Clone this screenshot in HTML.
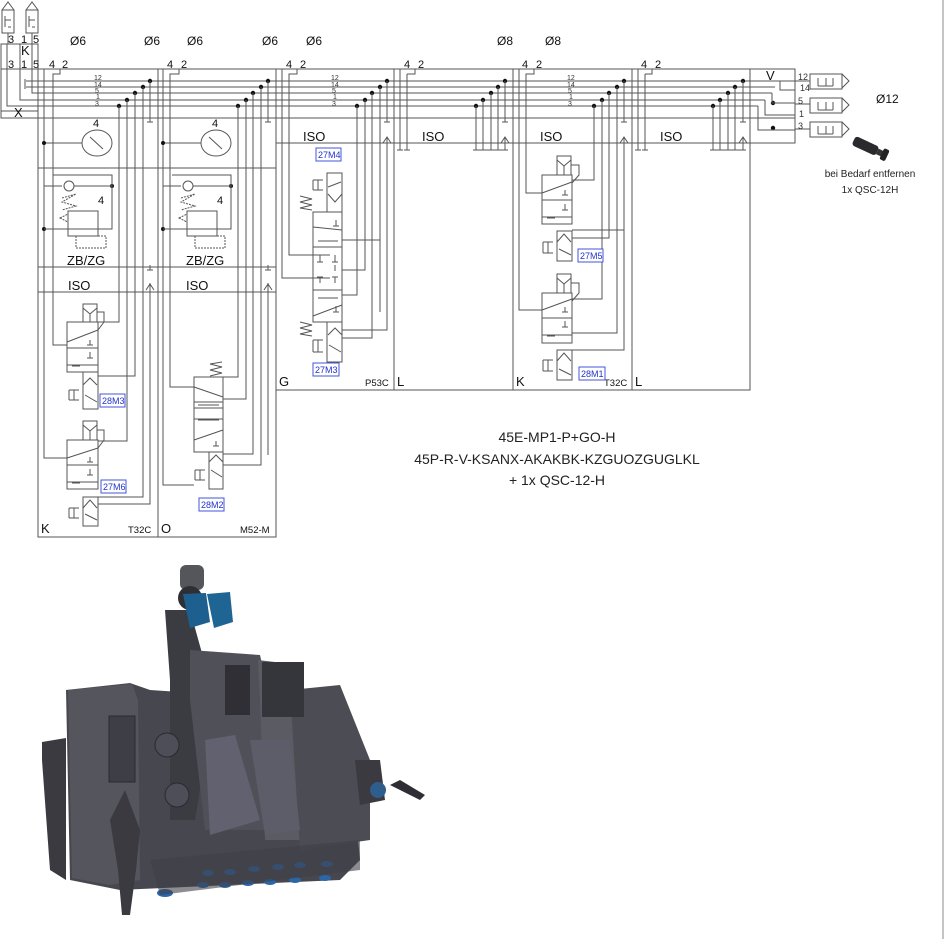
<!DOCTYPE html>
<html><head><meta charset="utf-8"><style>
html,body{margin:0;padding:0;background:#fff;}
svg{display:block;font-family:"Liberation Sans",sans-serif;}
.l{stroke:#555;stroke-width:1;fill:none}
.t{fill:#111}
.s{font-size:7px;fill:#333}
.lab{font-size:9px;fill:#2233cc}
.lb{stroke:#4455dd;fill:#fff;stroke-width:1}
</style></head><body>
<svg width="945" height="939" viewBox="0 0 945 939" xmlns="http://www.w3.org/2000/svg">
<g class="l">
<rect x="2" y="10" width="12" height="23"/><path d="M2,10 L8,2 L14,10 M5,16 L5,27 M5,20 H11 M8,27 H11"/>
<rect x="26" y="10" width="12" height="23"/><path d="M26,10 L32,2 L38,10 M29,16 L29,27 M29,20 H35 M32,27 H35"/>
<path d="M8,33 V44 M32,33 V44"/>
<rect x="1" y="44" width="37" height="74"/>
<path d="M1,69 H795 M1,44 H38"/>
<path d="M7,44 V106 H758 M20,44 V100 H765 M32,44 V93 H772 M26,81 H780 M26,87 H775 M25,79 V89"/>
<path d="M1,111 H38"/>
<path d="M38,118 H795"/>
</g>
<g class="t" style="font-size:11px"><text x="8" y="43">3</text><text x="21" y="43">1</text><text x="33" y="43">5</text>
<text x="8" y="68">3</text><text x="21" y="68">1</text><text x="33" y="68">5</text></g>
<g class="t" style="font-size:13px"><text x="21" y="55">K</text><text x="14" y="117">X</text></g>
<g class="t" style="font-size:12px"><text x="70" y="45">Ø6</text><text x="144" y="45">Ø6</text><text x="187" y="45">Ø6</text><text x="262" y="45">Ø6</text><text x="306" y="45">Ø6</text><text x="497" y="45">Ø8</text><text x="545" y="45">Ø8</text><text x="876" y="103">Ø12</text></g>
<g class="l">
<path d="M38,69 V537 H276 V69 M158,69 V537"/>
<path d="M276,390 H750 V69 M394,69 V390 M513,69 V390 M632,69 V390"/>
<path d="M38,168 H276 M38,267 H276 M38,292 H276"/>
<path d="M276,143 H750"/>
<path d="M750,69 H795 V143 H750"/>
</g>
<g class="s"><text x="94" y="80">12</text><text x="94" y="87">14</text><text x="95" y="93">5</text><text x="96" y="99">1</text><text x="95" y="106">3</text>
<text x="331" y="80">12</text><text x="331" y="87">14</text><text x="332" y="93">5</text><text x="333" y="99">1</text><text x="332" y="106">3</text>
<text x="567" y="80">12</text><text x="567" y="87">14</text><text x="568" y="93">5</text><text x="569" y="99">1</text><text x="568" y="106">3</text></g>
<g class="t" style="font-size:11px"><text x="49" y="68">4</text><text x="62" y="68">2</text><text x="167" y="68">4</text><text x="181" y="68">2</text><text x="286" y="68">4</text><text x="300" y="68">2</text><text x="404" y="68">4</text><text x="418" y="68">2</text><text x="522" y="68">4</text><text x="536" y="68">2</text><text x="641" y="68">4</text><text x="655" y="68">2</text></g>
<g class="l">
<path d="M44,69 V458 H67 M60,69 V74 H53 V345 H67"/>
<path d="M163,69 V485 H194 M179,69 V74 H170 V387 H194"/>
<path d="M282,69 V278 H330 M297,69 V74 H289 V255 H330"/>
<path d="M400,69 V150 M407,74 V150 M415,69 V74 H407 M397,150 H403 M404,150 H410"/>
<path d="M519,69 V310 H542 M534,69 V74 H526 V193 H542"/>
<path d="M638,69 V150 M645,74 V150 M652,69 V74 H645 M635,150 H641 M642,150 H648"/>
</g>
<g fill="#111">
<circle cx="119" cy="106" r="2.2"/><circle cx="127" cy="100" r="2.2"/><circle cx="135" cy="93" r="2.2"/><circle cx="143" cy="87" r="2.2"/><circle cx="150" cy="81" r="2.2"/>
<circle cx="238" cy="106" r="2.2"/><circle cx="246" cy="100" r="2.2"/><circle cx="253" cy="93" r="2.2"/><circle cx="261" cy="87" r="2.2"/><circle cx="268" cy="81" r="2.2"/>
<circle cx="357" cy="106" r="2.2"/><circle cx="365" cy="100" r="2.2"/><circle cx="372" cy="93" r="2.2"/><circle cx="380" cy="87" r="2.2"/><circle cx="387" cy="81" r="2.2"/>
<circle cx="476" cy="106" r="2.2"/><circle cx="483" cy="100" r="2.2"/><circle cx="491" cy="93" r="2.2"/><circle cx="498" cy="87" r="2.2"/><circle cx="505" cy="81" r="2.2"/>
<circle cx="594" cy="106" r="2.2"/><circle cx="602" cy="100" r="2.2"/><circle cx="609" cy="93" r="2.2"/><circle cx="617" cy="87" r="2.2"/><circle cx="624" cy="81" r="2.2"/>
<circle cx="713" cy="106" r="2.2"/><circle cx="720" cy="100" r="2.2"/><circle cx="728" cy="93" r="2.2"/><circle cx="735" cy="87" r="2.2"/><circle cx="743" cy="81" r="2.2"/>
<circle cx="773" cy="103" r="2.2"/><circle cx="773" cy="128" r="2.2"/>
</g>
<g class="l">
<path d="M119,106 V322 H98 M127,100 V441 H98 M135,93 V376 H98 M143,87 V497 H98 M150,81 V122 M147,122 H153 M150,283 V504 H98"/>
<path d="M147,270 H153 M150,270 V265 M146,290 L150,284 L154,290"/>
<path d="M238,106 V377 H223 M246,100 V399 H223 M253,93 V454 H223 M261,87 V465 H223 M268,81 V122 M265,122 H271 M268,283 V455"/>
<path d="M265,270 H271 M268,270 V265 M264,290 L268,284 L272,290"/>
<path d="M357,106 V295 H342 M365,100 V270 H342 M372,93 V338 H342 M380,87 V240 H342 M380,187 V312 M387,81 V122 M384,122 H390 M387,138 V330 H342"/>
<path d="M383,143 L387,137 L391,143"/>
<path d="M476,106 V150 M483,100 V150 M491,93 V150 M498,87 V150 M505,81 V122 M502,122 H508 M505,138 V150 M501,143 L505,137 L509,143 M473,150 H508"/>
<path d="M594,106 V180 H572 M602,100 V299 H572 M609,93 V238 H572 M617,87 V333 H572 M624,81 V122 M621,122 H627 M624,138 V230 H572 M624,230 V350 H572"/>
<path d="M620,143 L624,137 L628,143"/>
<path d="M713,106 V150 M720,100 V150 M728,93 V150 M735,87 V150 M743,81 V122 M740,122 H746 M743,138 V150 M739,143 L743,137 L747,143 M710,150 H746"/>
<path d="M758,106 V130 H795 M765,100 V115 H795 M772,93 V103 H795 M780,81 V90 H795"/>
<path d="M795,81 H810 M795,104 H810 M795,129 H810 M780,81 H795"/>
</g>
<text class="t" style="font-size:13px" x="766" y="80">V</text>
<g class="s" style="font-size:9px"><text x="798" y="80">12</text><text x="800" y="91">14</text><text x="798" y="104">5</text><text x="799" y="117">1</text><text x="798" y="129">3</text></g>
<g class="l"><rect x="810" y="74" width="32" height="15"/><path d="M842,74 L849,81 L842,88 M818,78 V86 M826,78 V86 M833,78 V86 M818,86 H833"/>
<rect x="810" y="98" width="32" height="15"/><path d="M842,98 L849,105 L842,112 M818,102 V110 M826,102 V110 M833,102 V110 M818,110 H833"/>
<rect x="810" y="122" width="32" height="15"/><path d="M842,122 L849,129 L842,136 M818,126 V134 M826,126 V134 M833,126 V134 M818,134 H833"/></g>
<g transform="translate(870,148) rotate(25)"><rect x="-18" y="-5" width="26" height="10" rx="3" fill="#2a2a2e"/><rect x="8" y="-3" width="6" height="6" fill="#333"/><rect x="13" y="-6" width="6" height="12" rx="2" fill="#222"/></g>
<text x="870" y="177" font-size="10" text-anchor="middle" fill="#222">bei Bedarf entfernen</text>
<text x="870" y="193" font-size="10" text-anchor="middle" fill="#222">1x QSC-12H</text>
<g class="l"><ellipse cx="97" cy="143" rx="15" ry="13"/><path d="M90,137 L103,149"/><ellipse cx="216" cy="143" rx="15" ry="13"/><path d="M209,137 L222,149"/>
<path d="M44,143 H82 M163,143 H201"/></g>
<g fill="#111"><circle cx="44" cy="143" r="2"/><circle cx="163" cy="143" r="2"/><circle cx="112" cy="186" r="2"/><circle cx="231" cy="186" r="2"/><circle cx="44" cy="229" r="2"/><circle cx="163" cy="229" r="2"/></g>
<g class="t" style="font-size:11px"><text x="93" y="127">4</text><text x="212" y="127">4</text><text x="98" y="204">4</text><text x="217" y="204">4</text></g>
<g class="l">
<path d="M53,175 H112 V229 H68 M44,186 H62 M74,186 H112 M44,229 H68"/><circle cx="69" cy="186" r="5"/>
<rect x="68" y="211" width="30" height="25"/><path d="M62,198 L76,194 L62,202 L76,206 L62,210 M60,218 L68,214 L68,222 Z M68,229 H98 M98,236 H106 V248 H76 V236" stroke-dasharray="2,1"/>
<path d="M172,175 H231 V229 H187 M163,186 H181 M193,186 H231 M163,229 H187"/><circle cx="188" cy="186" r="5"/>
<rect x="187" y="211" width="30" height="25"/><path d="M181,198 L195,194 L181,202 L195,206 L181,210 M179,218 L187,214 L187,222 Z M187,229 H217 M217,236 H225 V248 H195 V236" stroke-dasharray="2,1"/>
</g>
<g class="t" style="font-size:13px"><text x="67" y="265">ZB/ZG</text><text x="186" y="265">ZB/ZG</text><text x="68" y="290">ISO</text><text x="186" y="290">ISO</text>
<text x="303" y="141">ISO</text><text x="422" y="141">ISO</text><text x="540" y="141">ISO</text><text x="660" y="141">ISO</text>
<text x="41" y="533">K</text><text x="161" y="533">O</text><text x="279" y="386">G</text><text x="397" y="386">L</text><text x="516" y="386">K</text><text x="635" y="386">L</text></g>
<g class="t" style="font-size:9.5px"><text x="128" y="533">T32C</text><text x="240" y="533">M52-M</text><text x="365" y="386">P53C</text><text x="604" y="386">T32C</text></g>
<g class="l">
<rect x="67" y="322" width="31" height="50"/><rect x="83" y="304" width="14" height="18"/><path d="M83,308 L90,314 L97,308 M90,314 V322 M97,312 H104 V322 L98,330 M67,342 L98,330 M67,348 H98 M67,365 H98 M72,366 H80 M90,340 V345 M87,345 H93 M90,352 V358 M87,358 H93"/>
<rect x="83" y="372" width="15" height="37"/><path d="M83,385 L90,378 L97,385 M85,395 L97,402 M69,390 V400 M74,390 V400 M69,400 H79 M69,390 H79"/>
<rect x="67" y="440" width="31" height="49"/><rect x="83" y="421" width="14" height="19"/><path d="M83,425 L90,431 L97,425 M90,431 V440 M97,430 H104 V440 L98,448 M67,458 L98,448 M67,465 H98 M67,482 H98 M72,483 H80 M90,457 V462 M87,462 H93 M90,469 V475 M87,475 H93"/>
<rect x="83" y="497" width="15" height="29"/><path d="M83,508 L90,500 L97,508 M85,514 L97,520 M69,508 V518 M74,508 V518 M69,518 H79 M69,508 H79 M98,497 H143"/>
<rect x="194" y="377" width="29" height="75"/><path d="M194,387 L223,397 M194,402 H223 M194,408 H223 M194,419 H223 M194,440 L223,430 M198,405 H219 M198,420 H219 M216,441 V446 M213,446 H219 M210,376 L222,373 L210,370 L222,367 L210,364 L222,362"/>
<rect x="209" y="452" width="14" height="37"/><path d="M209,462 L216,455 L223,462 M211,470 L222,477 M195,470 V480 M200,470 V480 M195,480 H205 M195,470 H205"/>
<rect x="327" y="173" width="15" height="39"/><path d="M328,187 L341,182 M328,194 L335,202 L342,194 M313,180 V190 M318,180 V190 M313,180 H323 M313,190 H323 M300,196 L312,199 L300,202 L312,205 L300,208 L312,210"/>
<rect x="313" y="212" width="29" height="110"/><path d="M313,227 L342,230 M313,247 H342 M313,290 H342 M318,241 H338 M318,298 H338 M313,316 L342,305 M336,220 V226 M333,226 H339 M336,306 V312 M333,312 H339 M320,255 V262 M317,262 H323 M335,255 V262 M332,262 H338 M320,277 V283 M317,277 H323 M335,277 V283 M332,277 H338 M335,265 V271"/>
<rect x="327" y="322" width="15" height="40"/><path d="M328,335 L335,328 L342,335 M329,345 L341,352 M313,340 V352 M318,340 V352 M313,340 H323 M313,352 H323 M300,322 L312,325 L300,328 L312,331 L300,334 L312,336"/>
<rect x="542" y="175" width="30" height="49"/><rect x="557" y="156" width="14" height="19"/><path d="M557,160 L564,166 L571,160 M564,166 V175 M571,165 H579 V175 L572,183 M542,193 L572,182 M542,200 H572 M542,217 H572 M547,218 H555 M565,190 V195 M562,195 H568 M565,204 V210 M562,210 H568"/>
<rect x="557" y="231" width="15" height="30"/><path d="M557,242 L564,234 L571,242 M559,249 L571,255 M543,242 V253 M548,242 V253 M543,253 H553 M543,242 H553"/>
<rect x="542" y="293" width="30" height="50"/><rect x="557" y="274" width="14" height="19"/><path d="M557,278 L564,284 L571,278 M564,284 V293 M571,283 H579 V293 L572,301 M542,310 L572,299 M542,318 H572 M542,335 H572 M547,336 H555 M565,307 V312 M562,312 H568 M565,321 V327 M562,327 H568"/>
<rect x="557" y="350" width="15" height="30"/><path d="M557,361 L564,353 L571,361 M559,369 L571,375 M543,360 V371 M548,360 V371 M543,371 H553 M543,360 H553"/>
</g>
<g><rect class="lb" x="100" y="394" width="25" height="13"/><text class="lab" x="102" y="404">28M3</text>
<rect class="lb" x="101" y="480" width="25" height="13"/><text class="lab" x="103" y="490">27M6</text>
<rect class="lb" x="199" y="498" width="25" height="13"/><text class="lab" x="201" y="508">28M2</text>
<rect class="lb" x="316" y="148" width="25" height="13"/><text class="lab" x="318" y="158">27M4</text>
<rect class="lb" x="313" y="363" width="26" height="13"/><text class="lab" x="315" y="373">27M3</text>
<rect class="lb" x="578" y="249" width="25" height="13"/><text class="lab" x="580" y="259">27M5</text>
<rect class="lb" x="579" y="367" width="26" height="13"/><text class="lab" x="581" y="377">28M1</text></g>
<g font-size="14" fill="#222" text-anchor="middle"><text x="557" y="442">45E-MP1-P+GO-H</text><text x="557" y="464">45P-R-V-KSANX-AKAKBK-KZGUOZGUGLKL</text><text x="557" y="485">+ 1x QSC-12-H</text></g>
<g>
<polygon points="42,742 66,738 66,880 50,870 42,760" fill="#3a3a40"/>
<polygon points="66,690 130,683 150,690 300,700 345,700 360,860 340,880 120,890 70,880" fill="#47474f"/>
<polygon points="68,690 132,684 138,700 140,880 110,885 72,878" fill="#55555e"/>
<rect x="109" y="716" width="26" height="66" fill="#3e3e46" stroke="#2a2a30"/>
<polygon points="165,610 190,610 215,700 195,820 170,820 170,680" fill="#3b3b42"/>
<polygon points="190,650 260,655 270,700 265,830 205,830 190,700" fill="#505059"/>
<polygon points="258,660 300,665 305,700 300,840 265,840 260,700" fill="#5b5b64"/>
<polygon points="290,690 340,685 370,760 370,840 300,850" fill="#4c4c55"/>
<rect x="225" y="665" width="25" height="50" fill="#2f2f35"/>
<rect x="262" y="662" width="42" height="55" fill="#35353c"/>
<polygon points="205,740 235,735 260,820 210,835" fill="#616170"/>
<polygon points="250,740 290,740 300,830 265,835" fill="#5d5d6a"/>
<circle cx="167" cy="745" r="12" fill="#4e4e58" stroke="#2a2a30"/>
<circle cx="177" cy="795" r="12" fill="#4e4e58" stroke="#2a2a30"/>
<polygon points="110,820 125,790 140,830 136,870 130,915 122,915 118,870" fill="#3a3a40"/>
<rect x="180" y="565" width="24" height="25" rx="6" fill="#55555c"/>
<circle cx="190" cy="598" r="12" fill="#2e2e34"/>
<polygon points="183,594 206,593 210,622 190,628" fill="#1d5f8e"/>
<polygon points="207,594 230,592 233,622 214,628" fill="#1f6594"/>
<polygon points="355,760 380,760 385,800 360,805" fill="#3a3a40"/>
<circle cx="378" cy="790" r="8" fill="#2f5e8c"/>
<polygon points="390,785 400,780 425,795 420,800" fill="#2e2e34"/>
<g fill="#2a66a8"><ellipse cx="165" cy="893" rx="8" ry="4"/><ellipse cx="203" cy="885" rx="6" ry="3"/><ellipse cx="225" cy="885" rx="6" ry="3"/><ellipse cx="248" cy="883" rx="6" ry="3"/><ellipse cx="270" cy="882" rx="6" ry="3"/><ellipse cx="295" cy="880" rx="6" ry="3"/><ellipse cx="325" cy="878" rx="6" ry="3"/>
<ellipse cx="208" cy="873" rx="6" ry="3"/><ellipse cx="230" cy="872" rx="6" ry="3"/><ellipse cx="254" cy="869" rx="6" ry="3"/><ellipse cx="278" cy="867" rx="6" ry="3"/><ellipse cx="300" cy="865" rx="6" ry="3"/><ellipse cx="327" cy="864" rx="6" ry="3"/></g>
<polygon points="150,860 360,840 360,870 160,895" fill="#3f3f47" opacity="0.6"/>
</g>
<path d="M943,0 V939" stroke="#888" stroke-width="1"/>
</svg>
</body></html>
